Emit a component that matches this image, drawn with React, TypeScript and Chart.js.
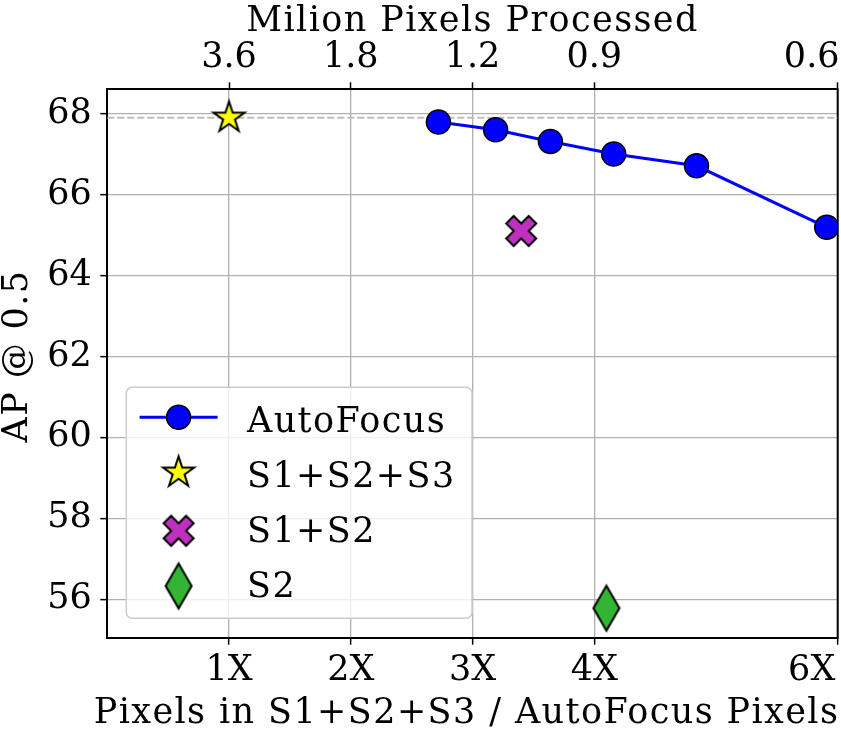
import React, { useEffect, useRef } from "react";
import { Chart, registerables } from "chart.js";

Chart.register(...registerables);

// ---- data ----
const autoFocusX = [2.72, 3.19, 3.64, 4.16, 4.84, 5.91];
const autoFocusY = [67.79, 67.6, 67.31, 67.0, 66.71, 65.19];
const s123X = [1.0];
const s123Y = [67.9];
const s12X = [3.4];
const s12Y = [65.1];
const s2X = [4.1];
const s2Y = [55.78];
const refLineX = [0, 6];
const refLineY = [67.9, 67.9];

const xTickValues = [1, 2, 3, 4, 6];
const xTickLabels = ["1X", "2X", "3X", "4X", "6X"];
const topTickLabels = ["3.6", "1.8", "1.2", "0.9", "0.6"];
const yTickValues = [56, 58, 60, 62, 64, 66, 68];

const legendLabels = ["AutoFocus", "S1+S2+S3", "S1+S2", "S2"];
const xTitle = "Pixels in S1+S2+S3 / AutoFocus Pixels";
const topTitle = "Milion Pixels Processed";
const yTitle = "AP @ 0.5";

const FONT = "'DejaVu Serif', serif";
const FS = 35;
const SPACING = "1.4px";

function mkCanvas(w: number, h: number) {
  const c = document.createElement("canvas");
  c.width = w;
  c.height = h;
  return c;
}

function makeStar(R: number) {
  const s = Math.ceil(2 * R + 6);
  const c = mkCanvas(s, s);
  const ctx = c.getContext("2d")!;
  ctx.translate(s / 2, s / 2);
  ctx.beginPath();
  for (let i = 0; i < 10; i++) {
    const a = -Math.PI / 2 + (i * Math.PI) / 5;
    const r = i % 2 === 0 ? R : R * 0.382;
    const px = r * Math.cos(a);
    const py = r * Math.sin(a);
    if (i === 0) ctx.moveTo(px, py);
    else ctx.lineTo(px, py);
  }
  ctx.closePath();
  ctx.fillStyle = "#ffff00";
  ctx.fill();
  ctx.lineWidth = 2;
  ctx.lineJoin = "miter";
  ctx.strokeStyle = "#000";
  ctx.stroke();
  return c;
}

function makeX(size: number) {
  const s = Math.ceil(size + 6);
  const c = mkCanvas(s, s);
  const ctx = c.getContext("2d")!;
  ctx.translate(s / 2, s / 2);
  const pts = [
    [-1, -2], [0, -1], [1, -2], [2, -1], [1, 0], [2, 1],
    [1, 2], [0, 1], [-1, 2], [-2, 1], [-1, 0], [-2, -1],
  ];
  ctx.beginPath();
  pts.forEach(([px, py], i) => {
    const X = (px / 4) * size;
    const Y = (py / 4) * size;
    if (i === 0) ctx.moveTo(X, Y);
    else ctx.lineTo(X, Y);
  });
  ctx.closePath();
  ctx.fillStyle = "#bf30bf";
  ctx.fill();
  ctx.lineWidth = 2;
  ctx.strokeStyle = "#000";
  ctx.stroke();
  return c;
}

function makeDiamond(h: number, w: number) {
  const cw = Math.ceil(w + 6);
  const ch = Math.ceil(h + 6);
  const c = mkCanvas(cw, ch);
  const ctx = c.getContext("2d")!;
  ctx.translate(cw / 2, ch / 2);
  ctx.beginPath();
  ctx.moveTo(0, -h / 2);
  ctx.lineTo(w / 2, 0);
  ctx.lineTo(0, h / 2);
  ctx.lineTo(-w / 2, 0);
  ctx.closePath();
  ctx.fillStyle = "#33b433";
  ctx.fill();
  ctx.lineWidth = 2;
  ctx.strokeStyle = "#000";
  ctx.stroke();
  return c;
}

export default function App() {
  const ref = useRef<HTMLCanvasElement | null>(null);

  useEffect(() => {
    document.body.style.margin = "0";
    const canvas = ref.current!;
    const star = makeStar(16.3);
    const xm = makeX(30);
    const dia = makeDiamond(45, 26);

    const toPts = (xs: number[], ys: number[]) => xs.map((x, i) => ({ x, y: ys[i] }));

    const framePlugin = {
      id: "frame",
      beforeDatasetsDraw(chart: any) {
        const { ctx, chartArea: a } = chart;
        ctx.save();
        ctx.strokeStyle = "#000";
        ctx.lineWidth = 2;
        ctx.beginPath();
        ctx.moveTo(a.right, a.top - 1);
        ctx.lineTo(a.right, a.bottom + 1);
        ctx.stroke();
        ctx.restore();
      },
      afterDraw(chart: any) {
        const { ctx, chartArea: a } = chart;
        const xs = chart.scales.x;
        ctx.save();
        ctx.fillStyle = "#000";
        ctx.font = `${FS}px ${FONT}`;
        ctx.textBaseline = "alphabetic";
        ctx.textAlign = "center";
        // x tick labels (bottom and top)
        xTickValues.forEach((v, i) => {
          let px = xs.getPixelForValue(v);
          if (i === xTickValues.length - 1) px = Math.min(px, a.right - 26);
          ctx.fillText(xTickLabels[i], px, a.bottom + 42.3);
          ctx.fillText(topTickLabels[i], px, a.top - 22.6);
        });

        // axis titles
        (ctx as any).letterSpacing = SPACING;
        ctx.fillText(topTitle, (a.left + a.right) / 2, 30.5);
        ctx.fillText(xTitle, (a.left + a.right) / 2 - 6, a.bottom + 85);
        ctx.save();
        ctx.translate(26.5, (a.top + a.bottom) / 2 - 7.5);
        ctx.rotate(-Math.PI / 2);
        ctx.fillText(yTitle, 0, 0);
        ctx.restore();

        // legend
        const bx = a.left + 19;
        const bh = 231;
        const by = a.bottom - 19.4 - bh;
        const bw = 345.7;
        const r = 6;
        ctx.beginPath();
        ctx.moveTo(bx + r, by);
        ctx.lineTo(bx + bw - r, by);
        ctx.arcTo(bx + bw, by, bx + bw, by + r, r);
        ctx.lineTo(bx + bw, by + bh - r);
        ctx.arcTo(bx + bw, by + bh, bx + bw - r, by + bh, r);
        ctx.lineTo(bx + r, by + bh);
        ctx.arcTo(bx, by + bh, bx, by + bh - r, r);
        ctx.lineTo(bx, by + r);
        ctx.arcTo(bx, by, bx + r, by, r);
        ctx.closePath();
        ctx.fillStyle = "rgba(255,255,255,0.8)";
        ctx.fill();
        ctx.strokeStyle = "#cccccc";
        ctx.lineWidth = 1.5;
        ctx.stroke();

        const handleRows = [30, 85.3, 143.5, 198.7];
        const textRows = [44.4, 99.4, 154.4, 209.4];
        const hx = bx + 52.3;
        const y0 = by + handleRows[0];
        ctx.strokeStyle = "#0000ff";
        ctx.lineWidth = 3;
        ctx.beginPath();
        ctx.moveTo(bx + 13.3, y0);
        ctx.lineTo(bx + 91.3, y0);
        ctx.stroke();
        ctx.beginPath();
        ctx.arc(hx, y0, 12, 0, Math.PI * 2);
        ctx.fillStyle = "#0000ff";
        ctx.fill();
        ctx.strokeStyle = "#000";
        ctx.lineWidth = 1.5;
        ctx.stroke();
        const imgs = [star, xm, dia];
        imgs.forEach((im, i) => {
          const yy = by + handleRows[i + 1];
          ctx.drawImage(im, hx - im.width / 2, yy - im.height / 2);
        });
        ctx.fillStyle = "#000";
        ctx.textAlign = "left";
        ctx.textBaseline = "alphabetic";
        legendLabels.forEach((t, i) => {
          ctx.fillText(t, bx + 120.7, by + textRows[i]);
        });
        ctx.restore();
      },
    };

    const chart = new Chart(canvas, {
      type: "scatter",
      data: {
        datasets: [
          {
            label: legendLabels[0],
            data: toPts(autoFocusX, autoFocusY),
            showLine: true,
            borderColor: "#0000ff",
            borderWidth: 3,
            pointStyle: "circle",
            pointRadius: 12,
            pointBackgroundColor: "#0000ff",
            pointBorderColor: "#000",
            pointBorderWidth: 1.5,
            clip: 0,
            order: 1,
          } as any,
          {
            label: legendLabels[1],
            data: toPts(s123X, s123Y),
            pointStyle: star,
            pointRadius: 16,
            order: 0,
          },
          {
            label: legendLabels[2],
            data: toPts(s12X, s12Y),
            pointStyle: xm,
            pointRadius: 16,
            order: 0,
          },
          {
            label: legendLabels[3],
            data: toPts(s2X, s2Y),
            pointStyle: dia,
            pointRadius: 16,
            order: 0,
          },
          {
            label: "ref",
            data: toPts(refLineX, refLineY),
            showLine: true,
            borderColor: "#bdbdbd",
            borderWidth: 2,
            borderDash: [7, 3],
            pointRadius: 0,
            order: 10,
          } as any,
        ],
      },
      options: {
        animation: false,
        responsive: false,
        maintainAspectRatio: false,
        events: [],
        layout: { autoPadding: false, padding: { left: 0, right: 3.3, top: 0, bottom: 0 } },
        plugins: { legend: { display: false }, tooltip: { enabled: false } },
        scales: {
          x: {
            type: "linear",
            position: "bottom",
            min: 0,
            max: 6,
            afterBuildTicks: (s: any) => {
              s.ticks = xTickValues.map((v) => ({ value: v }));
            },
            afterFit: (s: any) => {
              s.height = 95.3;
            },
            ticks: { display: false },
            grid: { color: "#b0b0b0", lineWidth: 1.3, tickColor: "#000", tickWidth: 1.5, tickLength: 7 },
            border: { color: "#000", width: 2 },
            title: { display: false },
          },
          x2: {
            type: "linear",
            position: "top",
            min: 0,
            max: 6,
            afterBuildTicks: (s: any) => {
              s.ticks = xTickValues.map((v) => ({ value: v }));
            },
            afterFit: (s: any) => {
              s.height = 89.3;
            },
            ticks: { display: false },
            grid: { drawOnChartArea: false, tickColor: "#000", tickWidth: 1.5, tickLength: 7 },
            border: { color: "#000", width: 2 },
            title: { display: false },
          },
          y: {
            type: "linear",
            min: 55.05,
            max: 68.6,
            afterBuildTicks: (s: any) => {
              s.ticks = yTickValues.map((v) => ({ value: v }));
            },
            afterFit: (s: any) => {
              s.width = 107.3;
            },
            ticks: { color: "#000", font: { family: FONT, size: FS }, padding: 8.5 },
            grid: { color: "#b0b0b0", lineWidth: 1.3, tickColor: "#000", tickWidth: 1.5, tickLength: 7 },
            border: { color: "#000", width: 2 },
            title: { display: false },
          },
        },
      },
      plugins: [framePlugin],
    } as any);

    return () => chart.destroy();
  }, []);

  return (
    <div style={{ width: 841, height: 733 }}>
      <canvas ref={ref} width={841} height={733} style={{ display: "block", width: 841, height: 733 }} />
    </div>
  );
}
